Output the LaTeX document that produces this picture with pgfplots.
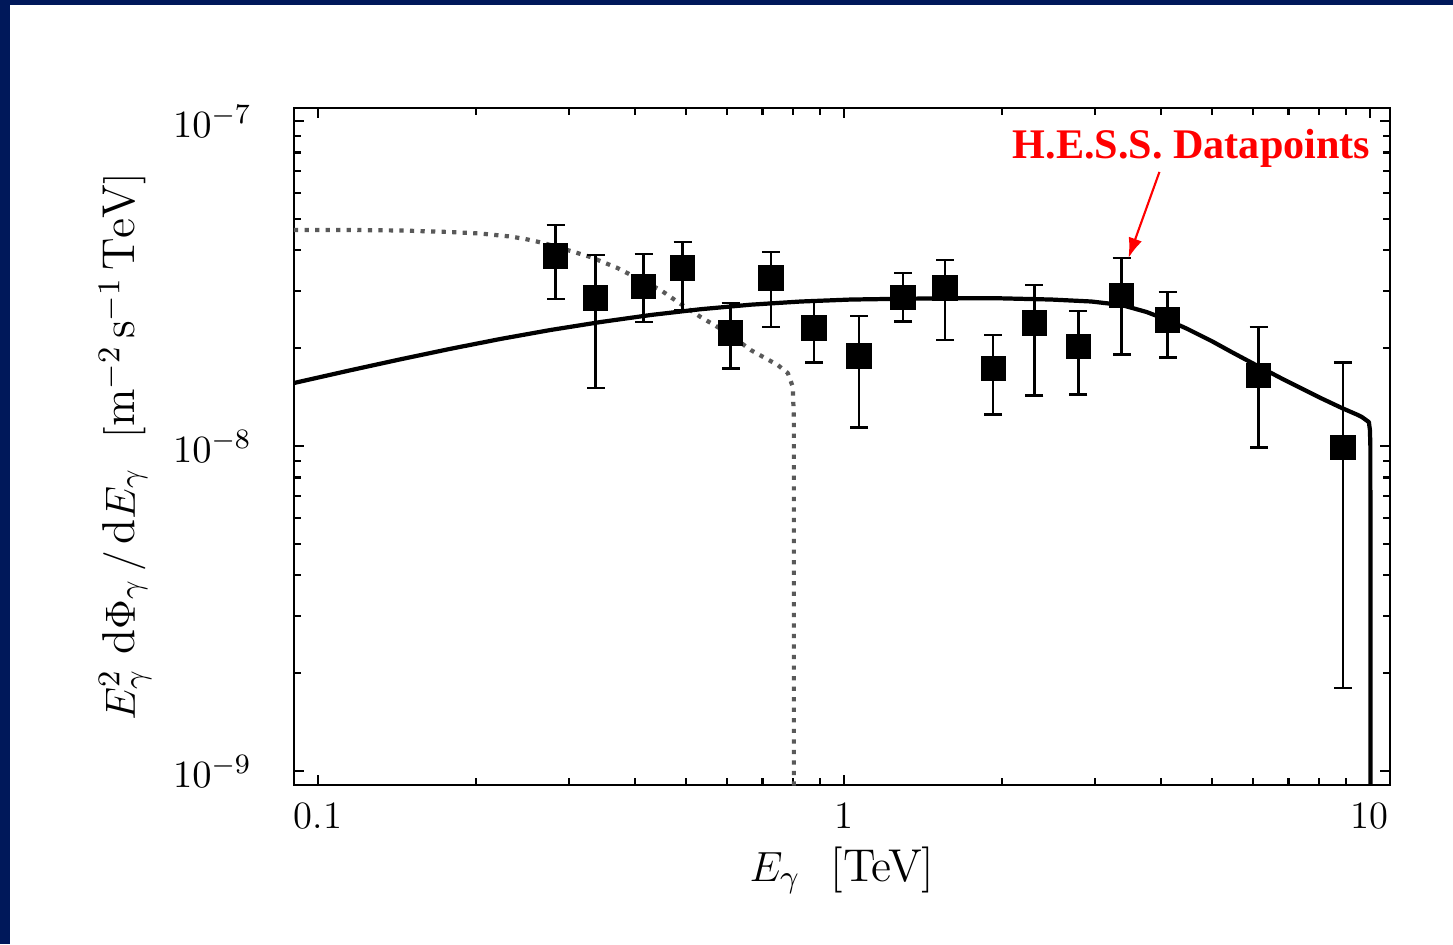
\documentclass[border=0pt]{standalone}
\usepackage{fontspec}
\usepackage{pgfplots}
\pgfplotsset{compat=1.18}
\usepackage{pgfplotstable}
\usetikzlibrary{arrows.meta}
\newfontfamily\annfont{Liberation Serif}
\definecolor{navy}{RGB}{0,24,90}

\pgfplotstableread{
x y lo hi
0.283 3.84e-8 2.83e-8 4.79e-8
0.337 2.85e-8 1.51e-8 3.87e-8
0.416 3.09e-8 2.41e-8 3.90e-8
0.4935 3.53e-8 2.62e-8 4.24e-8
0.609 2.23e-8 1.73e-8 2.75e-8
0.726 3.29e-8 2.32e-8 3.95e-8
0.877 2.31e-8 1.81e-8 2.81e-8
1.068 1.89e-8 1.14e-8 2.51e-8
1.295 2.87e-8 2.42e-8 3.41e-8
1.557 3.06e-8 2.12e-8 3.74e-8
1.922 1.73e-8 1.25e-8 2.20e-8
2.301 2.39e-8 1.43e-8 3.13e-8
2.791 2.02e-8 1.44e-8 2.60e-8
3.371 2.91e-8 1.91e-8 3.79e-8
4.123 2.44e-8 1.87e-8 2.98e-8
6.145 1.65e-8 0.99e-8 2.32e-8
8.886 0.99e-8 0.18e-8 1.81e-8
}\hessdata

\pgfplotstableread{
x y
0.09 1.563e-8
0.1151 1.710e-8
0.1433 1.848e-8
0.1784 1.991e-8
0.2222 2.135e-8
0.2766 2.275e-8
0.3445 2.407e-8
0.4290 2.530e-8
0.534 2.636e-8
0.665 2.722e-8
0.828 2.784e-8
1.031 2.823e-8
1.284 2.838e-8
1.599 2.849e-8
1.991 2.847e-8
2.479 2.823e-8
2.954 2.784e-8
3.371 2.716e-8
3.760 2.585e-8
4.123 2.442e-8
4.48 2.299e-8
5.0 2.104e-8
5.46 1.946e-8
6.145 1.757e-8
6.80 1.613e-8
7.42 1.503e-8
8.10 1.400e-8
8.845 1.309e-8
9.445 1.250e-8
9.656 1.228e-8
9.956 1.185e-8
10.0 1.12e-8
10.02 1.0e-8
10.025 0.5e-9
}\solidcurve

\pgfplotstableread{
x y
0.09 4.62e-8
0.115 4.62e-8
0.1433 4.604e-8
0.1784 4.554e-8
0.2035 4.506e-8
0.2321 4.411e-8
0.2479 4.334e-8
0.2683 4.213e-8
0.298 4.009e-8
0.3297 3.815e-8
0.3711 3.529e-8
0.4105 3.242e-8
0.448 3.02e-8
0.483 2.774e-8
0.534 2.494e-8
0.601 2.227e-8
0.665 1.974e-8
0.7485 1.775e-8
0.782 1.677e-8
0.7995 1.519e-8
0.803 1.202e-8
0.803 0.5e-9
}\dottedcurve

\begin{document}
\begin{tikzpicture}
\fill[navy] (0,0) rectangle (14.53,9.44);
\fill[white] (0.10,0) rectangle (14.53,9.39);
\useasboundingbox (0,0) rectangle (14.53,9.44);
\begin{axis}[
  at={(2.94cm,1.59cm)}, anchor=south west,
  scale only axis, width=10.96cm, height=6.77cm,
  xmode=log, ymode=log,
  xmin=0.09, xmax=10.92, ymin=9.06e-10, ymax=1.096e-7,
  xtick={0.1,1,10}, xticklabels={0.1,1,10},
  ytick={1e-9,1e-8,1e-7},
  axis line style={line width=0.8pt},
  major tick length=0.1cm, minor tick length=0.07cm,
  every tick/.style={line width=0.6pt, black},
  ticklabel style={font=\fontsize{11}{13}\selectfont},
  yticklabel style={xshift=-0.3cm},
  xticklabel style={yshift=-0.05cm},
  label style={font=\fontsize{13.1}{15}\selectfont},
  xlabel={$E_\gamma$\ \ [TeV]},
  ylabel={$E_\gamma^2\ \mathrm{d}\Phi_\gamma\,/\,\mathrm{d}E_\gamma\ \ [\mathrm{m}^{-2}\,\mathrm{s}^{-1}\,\mathrm{TeV}]$},
  xlabel style={at={(axis description cs:0.5,-0.1256)}, anchor=center},
  ylabel style={at={(axis description cs:-0.154,0.5)}, anchor=center},
]
\addplot[black!65, line width=1.2pt, dash pattern=on 1.2pt off 1.8pt, line join=round] table[x=x,y=y] {\dottedcurve};
\addplot[black, line width=1.2pt, line join=round] table[x=x,y=y] {\solidcurve};
\addplot[black, only marks, mark=square*, mark size=1.2mm,
  error bars/.cd, y dir=both, y explicit,
  error bar style={line width=0.7pt, black},
  error mark options={line width=0.7pt, mark size=0.9mm, rotate=90}]
  table[x=x, y=y, y error plus expr=\thisrow{hi}-\thisrow{y}, y error minus expr=\thisrow{y}-\thisrow{lo}] {\hessdata};
\node[text=red, font=\annfont\bfseries\fontsize{12}{14}\selectfont] at (axis cs:4.58,8.26e-8) {H.E.S.S. Datapoints};
\draw[red, line width=0.6pt, -{Latex[length=2mm,width=1.4mm]}] (axis cs:3.98,6.97e-8) -- (axis cs:3.475,3.79e-8);
\end{axis}
\end{tikzpicture}
\end{document}
